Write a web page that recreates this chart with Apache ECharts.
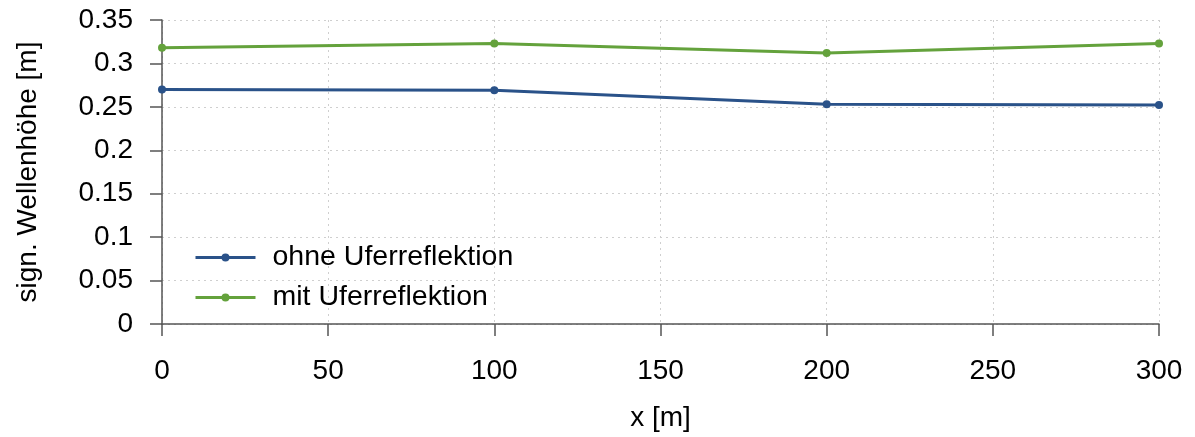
<!DOCTYPE html>
<html><head><meta charset="utf-8">
<script src="https://cdn.jsdelivr.net/npm/echarts@6/dist/echarts.min.js"></script>
<style>html,body{margin:0;padding:0;background:#fff}#c{width:1195px;height:437px}</style>
</head><body><div id="c"></div>
<script>
const xValues = [0, 100, 200, 300];
const ohne = [0.270, 0.269, 0.253, 0.252];
const mit = [0.318, 0.323, 0.312, 0.323];
const seriesNames = ['ohne Uferreflektion', 'mit Uferreflektion'];
const xName = 'x [m]';
const yName = 'sign. Wellenhöhe [m]';

const font = 'Arial';
const fs = 28;
const chart = echarts.init(document.getElementById('c'));
const gridLine = {show: true, lineStyle: {color: '#cfcfcf', type: [2, 4], width: 1}};
chart.setOption({
  animation: false,
  grid: {left: 162, right: 36, top: 20, bottom: 110},
  legend: {
    orient: 'vertical', left: 189, top: 238, itemWidth: 60, itemHeight: 10, itemGap: 11,
    lineStyle: {width: 3},
    textStyle: {fontFamily: font, fontSize: 28.5, color: '#000', padding: [0, 0, 0, 12]},
    data: seriesNames
  },
  xAxis: {
    type: 'value', min: 0, max: 300, interval: 50,
    name: xName, nameLocation: 'middle', nameGap: 80,
    nameTextStyle: {fontFamily: font, fontSize: fs, color: '#000'},
    axisLine: {show: true, onZero: false, lineStyle: {color: '#555', width: 1.5}},
    axisTick: {show: true, length: 12, inside: false, lineStyle: {color: '#555', width: 1.5}},
    axisLabel: {fontFamily: font, fontSize: fs, color: '#000', margin: 33},
    splitLine: gridLine
  },
  yAxis: {
    type: 'value', min: 0, max: 0.35, interval: 0.05,
    name: yName, nameLocation: 'middle', nameGap: 120, nameRotate: 90,
    nameTextStyle: {fontFamily: font, fontSize: 28, color: '#000'},
    axisLine: {show: true, onZero: false, lineStyle: {color: '#555', width: 1.5}},
    axisTick: {show: true, length: 12, inside: false, lineStyle: {color: '#555', width: 1.5}},
    axisLabel: {fontFamily: font, fontSize: fs, color: '#000', margin: 29},
    splitLine: gridLine
  },
  series: [
    {name: seriesNames[0], type: 'line', data: xValues.map((x, i) => [x, ohne[i]]),
     color: '#2a5289', lineStyle: {width: 3}, symbol: 'circle', symbolSize: 8},
    {name: seriesNames[1], type: 'line', data: xValues.map((x, i) => [x, mit[i]]),
     color: '#64a23c', lineStyle: {width: 3}, symbol: 'circle', symbolSize: 8}
  ]
});
</script></body></html>
